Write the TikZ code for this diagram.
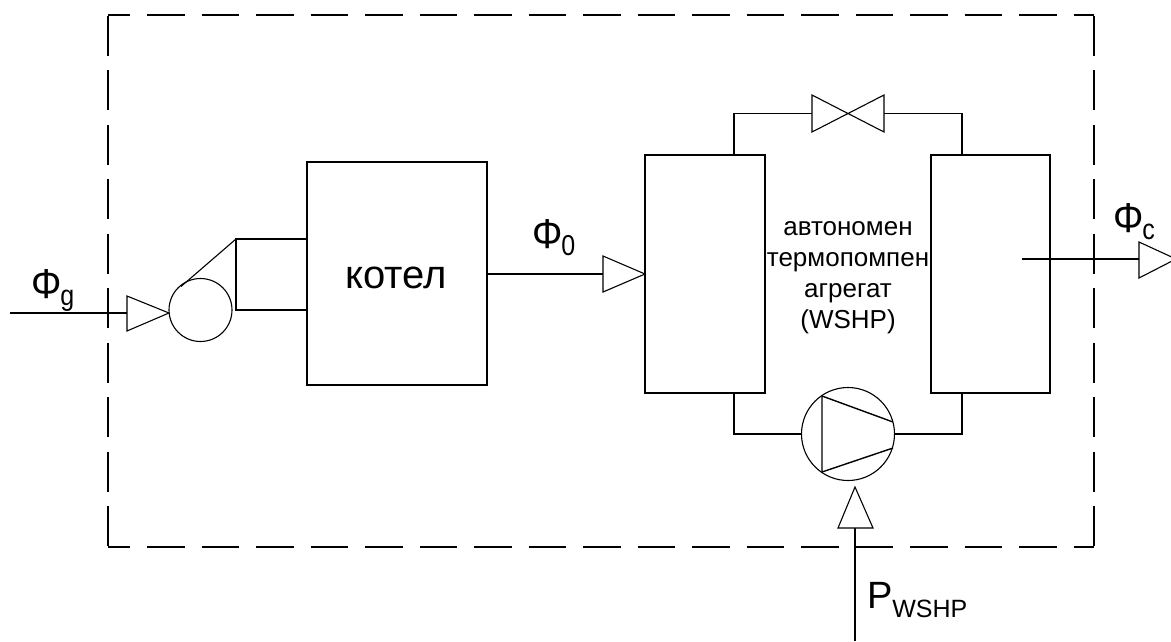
\documentclass[tikz,border=0pt]{standalone}
\usepackage{fontspec}
\setmainfont{Liberation Sans}
\tikzset{
  ln/.style={draw=black,line width=1.4pt,line join=miter},
  thinl/.style={draw=black,line width=1.1pt},
  boxn/.style={ln,rectangle,inner sep=0pt,outer sep=0pt},
  circn/.style={thinl,circle,inner sep=0pt,outer sep=0pt},
  lab/.style={inner sep=0pt,outer sep=0pt,anchor=base west,text=black},
  tri/.style={thinl,fill=white,line join=miter},
  frameh/.style={draw=black,line width=1.4pt,dash pattern=on 37.5pt off 17pt,dash phase=15.5pt},
  framev/.style={draw=black,line width=1.4pt,dash pattern=on 40pt off 14.5pt}
}
\newcommand{\phisym}[1]{\scalebox{1}[1.1]{\fontsize{38}{38}\selectfont Φ}\kern-1pt\raisebox{-7pt}{\scalebox{1}[1.15]{\fontsize{25}{25}\selectfont #1}}}
\begin{document}
\begin{tikzpicture}[x=1pt,y=-1pt]
\useasboundingbox (0,0) rectangle (1171,641);
\clip (0,0) rectangle (1171,641);
% boundary
\node[inner sep=0pt,outer sep=0pt,minimum width=986pt,minimum height=532pt] (sys) at (601,281) {};
\draw[frameh] (sys.north west) -- (sys.north east);
\draw[frameh] (sys.south west) -- (sys.south east);
\draw[framev] ([yshift=-.5pt]sys.north west) -- (sys.south west);
\draw[framev] ([yshift=-.5pt]sys.north east) -- (sys.south east);
% main boxes
\node[boxn,minimum width=180pt,minimum height=223pt] (boiler) at (397,273.5) {};
\node[boxn,minimum width=120pt,minimum height=238pt] (evap) at (705,274) {};
\node[boxn,minimum width=119pt,minimum height=238pt] (cond) at (990.5,274) {};
\node[circn,minimum size=63pt] (burner) at (200.5,310) {};
\node[circn,minimum size=93pt] (pump) at (848,434) {};
% burner
\coordinate (bt) at (236,239);
\coordinate (bb) at (236,310);
\coordinate (gasin) at (10,313);
\coordinate (gt) at (127,313);
\draw[thinl] (gasin) -- (gt);
\draw[tri] (127,296) -- (127,331) -- (169,313) -- cycle;
\draw[thinl] (bt) -- (181,286.5);
\draw[ln] (boiler.west |- bt) -- (bt) -- (bb) -- (boiler.west |- bb);
% heat flow
\coordinate (q0t) at (603,274);
\draw[thinl] (boiler.east |- q0t) -- (q0t);
\draw[tri] (603,256) -- (603,292) -- (645,274) -- cycle;
% refrigerant loop top
\coordinate (vl) at (812,113.5);
\coordinate (vr) at (884,113.5);
\coordinate (tl) at (734,113.5);
\coordinate (tr) at (962,113.5);
\draw[ln] (tl |- evap.north) -- (tl) -- (vl);
\draw[ln] (tr |- cond.north) -- (tr) -- (vr);
\draw[thinl,line join=miter] (812,95) -- (884,132) -- (884,95) -- (812,132) -- cycle;
% refrigerant loop bottom
\draw[ln] (tl |- evap.south) -- (tl |- pump.west) -- (pump.west);
\draw[ln] (tr |- cond.south) -- (tr |- pump.east) -- (pump.east);
\draw[ln] (893,422) -- (822,396) -- (822,472) -- (893,448);
% output
\coordinate (outs) at (1022,259);
\coordinate (oute) at (1139,259);
\draw[thinl] (outs) -- (oute);
\draw[tri] (1139,242) -- (1139,278) -- (1176,259) -- cycle;
% power input
\coordinate (pin) at (855,641);
\coordinate (pt) at (855,528);
\draw[ln] (pin) -- (pt);
\draw[tri] (838,528) -- (873,528) -- (855,487) -- cycle;
% labels
\node[lab] (lg) at (31,298) {\phisym{g}};
\node[lab] (l0) at (532,248) {\phisym{0}};
\node[lab] (lc) at (1113,232) {\phisym{c}};
\node[lab] (lp) at (867,608) {\fontsize{38}{38}\selectfont P\raisebox{-9pt}{\fontsize{25}{25}\selectfont WSHP}};
\node[inner sep=0pt,outer sep=0pt,text=black,anchor=base,font=\fontsize{40}{40}\selectfont] (lk) at (396,288) {котел};
\node[inner sep=0pt,outer sep=0pt,text=black,font=\fontsize{26}{31}\selectfont,align=center] (lw) at (848,278) {автономен\\термопомпен\\агрегат\\(WSHP)};
\end{tikzpicture}
\end{document}
